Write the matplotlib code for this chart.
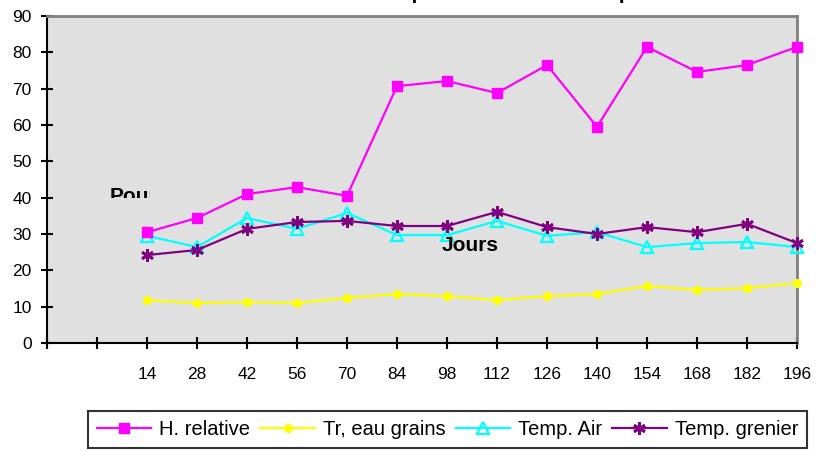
import matplotlib
matplotlib.use("Agg")
import matplotlib.pyplot as plt
from matplotlib.patches import Rectangle

plt.rcParams['font.family'] = ['Liberation Sans', 'DejaVu Sans']

jours = [14, 28, 42, 56, 70, 84, 98, 112, 126, 140, 154, 168, 182, 196]
h_relative = [30.5, 34.4, 41.0, 42.9, 40.5, 70.7, 72.1, 68.8, 76.5, 59.5, 81.5, 74.6, 76.5, 81.5]
tr_eau_grains = [11.8, 11.0, 11.3, 11.0, 12.4, 13.5, 12.9, 11.8, 12.9, 13.5, 15.7, 14.6, 15.1, 16.5]
temp_air = [29.5, 26.4, 34.4, 31.4, 35.8, 29.7, 29.7, 33.6, 29.5, 30.5, 26.4, 27.5, 27.8, 26.4]
temp_grenier = [24.2, 25.6, 31.4, 33.3, 33.6, 32.2, 32.2, 36.1, 31.9, 30.0, 31.9, 30.5, 32.8, 27.5]
x_ticks = [-14, 0] + jours
x_labels = ["", ""] + [str(j) for j in jours]
y_ticks = list(range(0, 100, 10))

W, H = 817, 451
fig = plt.figure(figsize=(W / 100, H / 100), dpi=100)
ax = fig.add_axes([47 / W, 1 - 343 / H, (797 - 47) / W, (343 - 16) / H])
ax.set_facecolor('#E0E0E0')

ax.plot(jours, h_relative, color='#FF00FF', lw=1.6, marker='s', ms=7,
        mfc='#FF00FF', mec='#FF00FF', label='H. relative', clip_on=False, zorder=5)
ax.plot(jours, tr_eau_grains, color='#FFFF00', lw=1.6, marker='o', ms=5.5,
        mfc='#FFFF00', mec='#FFFF00', label='Tr, eau grains', clip_on=False, zorder=3)
ax.plot(jours, temp_air, color='#00FFFF', lw=1.6, marker='^', ms=8,
        mfc='none', mec='#00FFFF', mew=1.6, label='Temp. Air', clip_on=False, zorder=4)
ax.plot(jours, temp_grenier, color='#800080', lw=1.6, marker=(6, 2, 0), ms=9,
        mec='#800080', mew=2, label='Temp. grenier', clip_on=False, zorder=4)

ax.set_xlim(-14, 196)
ax.set_ylim(0, 90)
ax.set_xticks(x_ticks)
ax.set_xticklabels(x_labels)
ax.set_yticks(y_ticks)
ax.tick_params(axis='both', direction='inout', length=8, width=1.5, labelsize=12.5, colors='black')
ax.tick_params(axis='x', pad=13)
ax.tick_params(axis='y', pad=7)

for side in ('left', 'bottom'):
    ax.spines[side].set_color('black')
    ax.spines[side].set_linewidth(1.5)
for side in ('top', 'right'):
    ax.spines[side].set_color('#808080')
    ax.spines[side].set_linewidth(2)

# Title sits above the top edge of the figure; only its descenders reach in
fig.text(370 / W, 1.0 + 1 / H, "Température et humidité pendant l'étude",
         ha='left', va='baseline', fontsize=15, fontweight='bold')

fig.text(470 / W, 1 - 246 / H, "Jours", ha='center', va='center',
         fontsize=15, fontweight='bold')

pour = fig.text(110 / W, 1 - 187 / H, "Pourcentage", ha='left', va='top',
                fontsize=15, fontweight='bold')
clip = Rectangle((105 / W, 1 - 198 / H), 45 / W, 20 / H, transform=fig.transFigure)
pour.set_clip_path(clip)

leg = fig.legend(loc='center', bbox_to_anchor=(447.5 / W, 1 - 429.5 / H), ncol=4,
                 frameon=True, fancybox=False, edgecolor='black', fontsize=14.5,
                 handlelength=2.7, handletextpad=0.4, columnspacing=0.5,
                 borderpad=0.45, borderaxespad=0)
leg.get_frame().set_linewidth(1.5)

fig.savefig('out.png', dpi=100)
